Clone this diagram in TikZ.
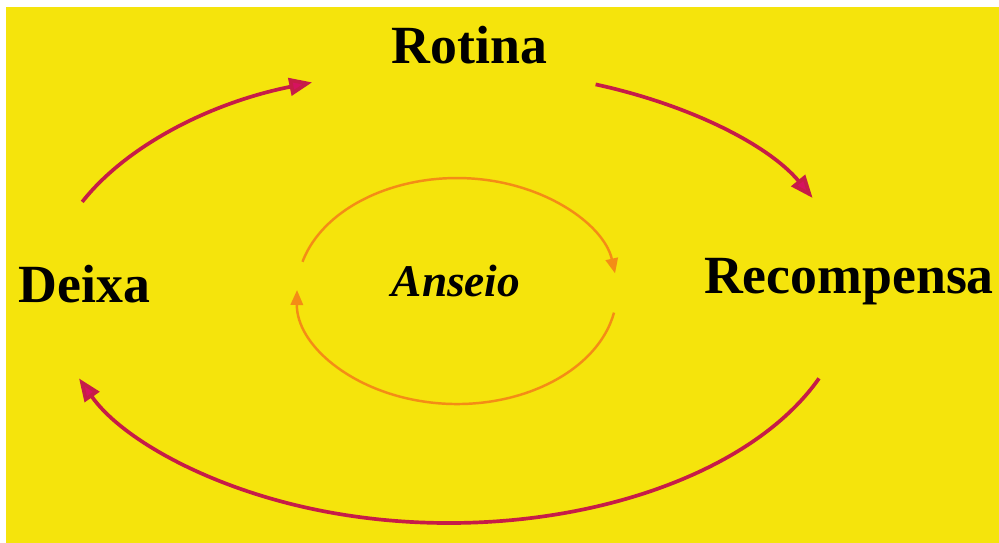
\documentclass[tikz,border=0pt]{standalone}
\usepackage{fontspec}
\setmainfont{Liberation Serif}
\usetikzlibrary{arrows.meta}
\definecolor{bgyellow}{RGB}{245,228,12}
\definecolor{outerline}{RGB}{198,28,72}
\definecolor{outerhead}{RGB}{214,18,96}
\definecolor{innerline}{RGB}{244,140,22}
\tikzset{
  outerarrow/.style={draw=outerline, line width=2.1pt,
    -{Triangle[length=13pt,width=10pt,fill=outerhead]}},
  innerarrow/.style={draw=innerline, line width=1.4pt,
    -{Triangle[length=8.5pt,width=7pt,fill=innerline]}},
  label/.style={font=\fontsize{30.6pt}{34pt}\selectfont\bfseries, text=black, inner sep=0pt, anchor=base},
  centrelabel/.style={font=\fontsize{25.8pt}{30pt}\selectfont\bfseries\itshape, text=black, inner sep=0pt, anchor=base}
}
\begin{document}
\begin{tikzpicture}[x=0.02cm,y=0.02cm]
\useasboundingbox (0,0) rectangle (999,-543);
\fill[white] (0,0) rectangle (999,-543);
\fill[bgyellow] (6,-7) rectangle (999,-543);
% labels
\node[label] (rotina) at (469.5,-64) {Rotina};
\node[label] (deixa) at (84.5,-303) {Deixa};
\node[label] (recompensa) at (849,-294) {Recompensa};
\node[centrelabel] (anseio) at (456,-297) {Anseio};
% outer cycle
\coordinate (tlstart) at (82.2,-201.9);
\coordinate (trstart) at (595.6,-84.4);
\coordinate (bstart) at (819,-378.4);
\draw[outerarrow] (tlstart) arc[start angle=156.5,end angle=110,x radius=8cm,y radius=4.42cm];
\draw[outerarrow] (trstart) arc[start angle=68.5,end angle=24.6,x radius=8cm,y radius=4.42cm];
\draw[outerarrow] (bstart) arc[start angle=-22.3,end angle=-157.7,x radius=8cm,y radius=4.66cm];
% inner cycle
\coordinate (iustart) at (302.5,-261.8);
\coordinate (ilstart) at (614,-312.6);
\draw[innerarrow] (iustart) arc[start angle=165,end angle=9,x radius=3.2cm,y radius=2.26cm];
\draw[innerarrow] (ilstart) arc[start angle=-11,end angle=-180.5,x radius=3.2cm,y radius=2.26cm];
\end{tikzpicture}
\end{document}
